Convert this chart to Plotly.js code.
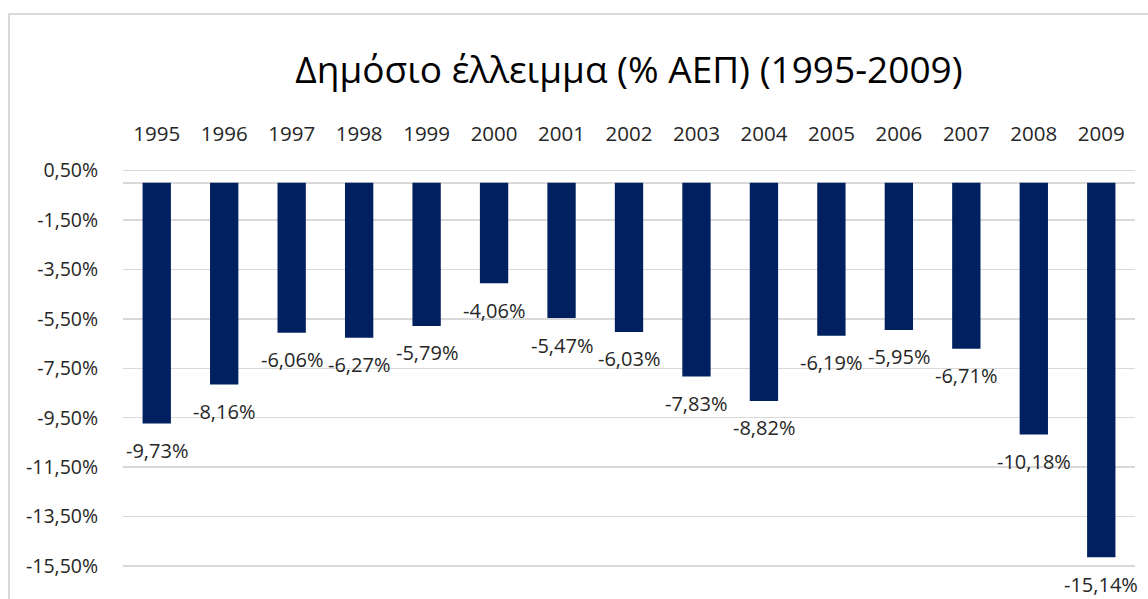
<!DOCTYPE html>
<html>
<head>
<meta charset="utf-8">
<script src="https://cdn.plot.ly/plotly-3.0.1.min.js"></script>
<style>
html,body{margin:0;padding:0;overflow:hidden;background:#fff;width:1148px;height:599px;}
#frame{position:absolute;left:8px;top:13px;width:1200px;height:700px;border:2px solid #d9d9d9;}
#chart{position:absolute;left:0;top:0;width:1148px;height:640px;}
</style>
</head>
<body>
<div id="frame"></div>
<div id="chart"></div>
<script>
const years = ['1995','1996','1997','1998','1999','2000','2001','2002','2003','2004','2005','2006','2007','2008','2009'];
const deficit = [-9.73,-8.16,-6.06,-6.27,-5.79,-4.06,-5.47,-6.03,-7.83,-8.82,-6.19,-5.95,-6.71,-10.18,-15.14];
const tickVals = [0.5,-1.5,-3.5,-5.5,-7.5,-9.5,-11.5,-13.5,-15.5];
const titleText = 'Δημόσιο έλλειμμα (% ΑΕΠ) (1995-2009)';

const fmt = v => (v < 0 ? '-' : '') + Math.abs(v).toFixed(2).replace('.', ',') + '%';

const font = 'Open Sans, Noto Sans, sans-serif';
const textColor = '#262626';

const trace = {
  type: 'bar',
  x: years,
  y: deficit,
  marker: {color: '#002060'},
  hoverinfo: 'skip'
};

const annotations = years.map((yr, i) => ({
  x: i, y: deficit[i], xref: 'x', yref: 'y',
  text: fmt(deficit[i]), showarrow: false,
  yanchor: 'middle', yshift: -27,
  font: {family: font, size: 20, color: textColor}
}));

const layout = {
  width: 1148, height: 640,
  margin: {l: 123, r: 13, t: 168, b: 27},
  paper_bgcolor: 'rgba(0,0,0,0)',
  plot_bgcolor: 'rgba(0,0,0,0)',
  showlegend: false,
  bargap: 0.58,
  title: {
    text: titleText,
    font: {family: font, size: 37, color: '#000000'},
    x: 0.5, xref: 'paper', xanchor: 'center',
    y: 1 - 70/640, yref: 'container', yanchor: 'middle'
  },
  xaxis: {
    type: 'category', side: 'top',
    categoryorder: 'array', categoryarray: years,
    range: [-0.5, years.length - 0.5], autorange: false,
    showgrid: false, showline: false, zeroline: false,
    ticks: 'outside', ticklen: 18, tickcolor: 'rgba(0,0,0,0)',
    tickfont: {family: font, size: 20.5, color: textColor},
    fixedrange: true
  },
  yaxis: {
    range: [-17.4, 0.6], autorange: false,
    tickvals: tickVals,
    ticktext: tickVals.map(fmt),
    showgrid: true, gridcolor: '#d9d9d9', gridwidth: 1.5,
    zeroline: true, zerolinecolor: '#d9d9d9', zerolinewidth: 1.5,
    showline: false,
    ticks: 'outside', ticklen: 20, tickcolor: 'rgba(0,0,0,0)',
    tickfont: {family: font, size: 19.5, color: textColor},
    fixedrange: true
  },
  annotations: annotations
};

Plotly.newPlot('chart', [trace], layout, {displayModeBar: false, staticPlot: true});
</script>
</body>
</html>
